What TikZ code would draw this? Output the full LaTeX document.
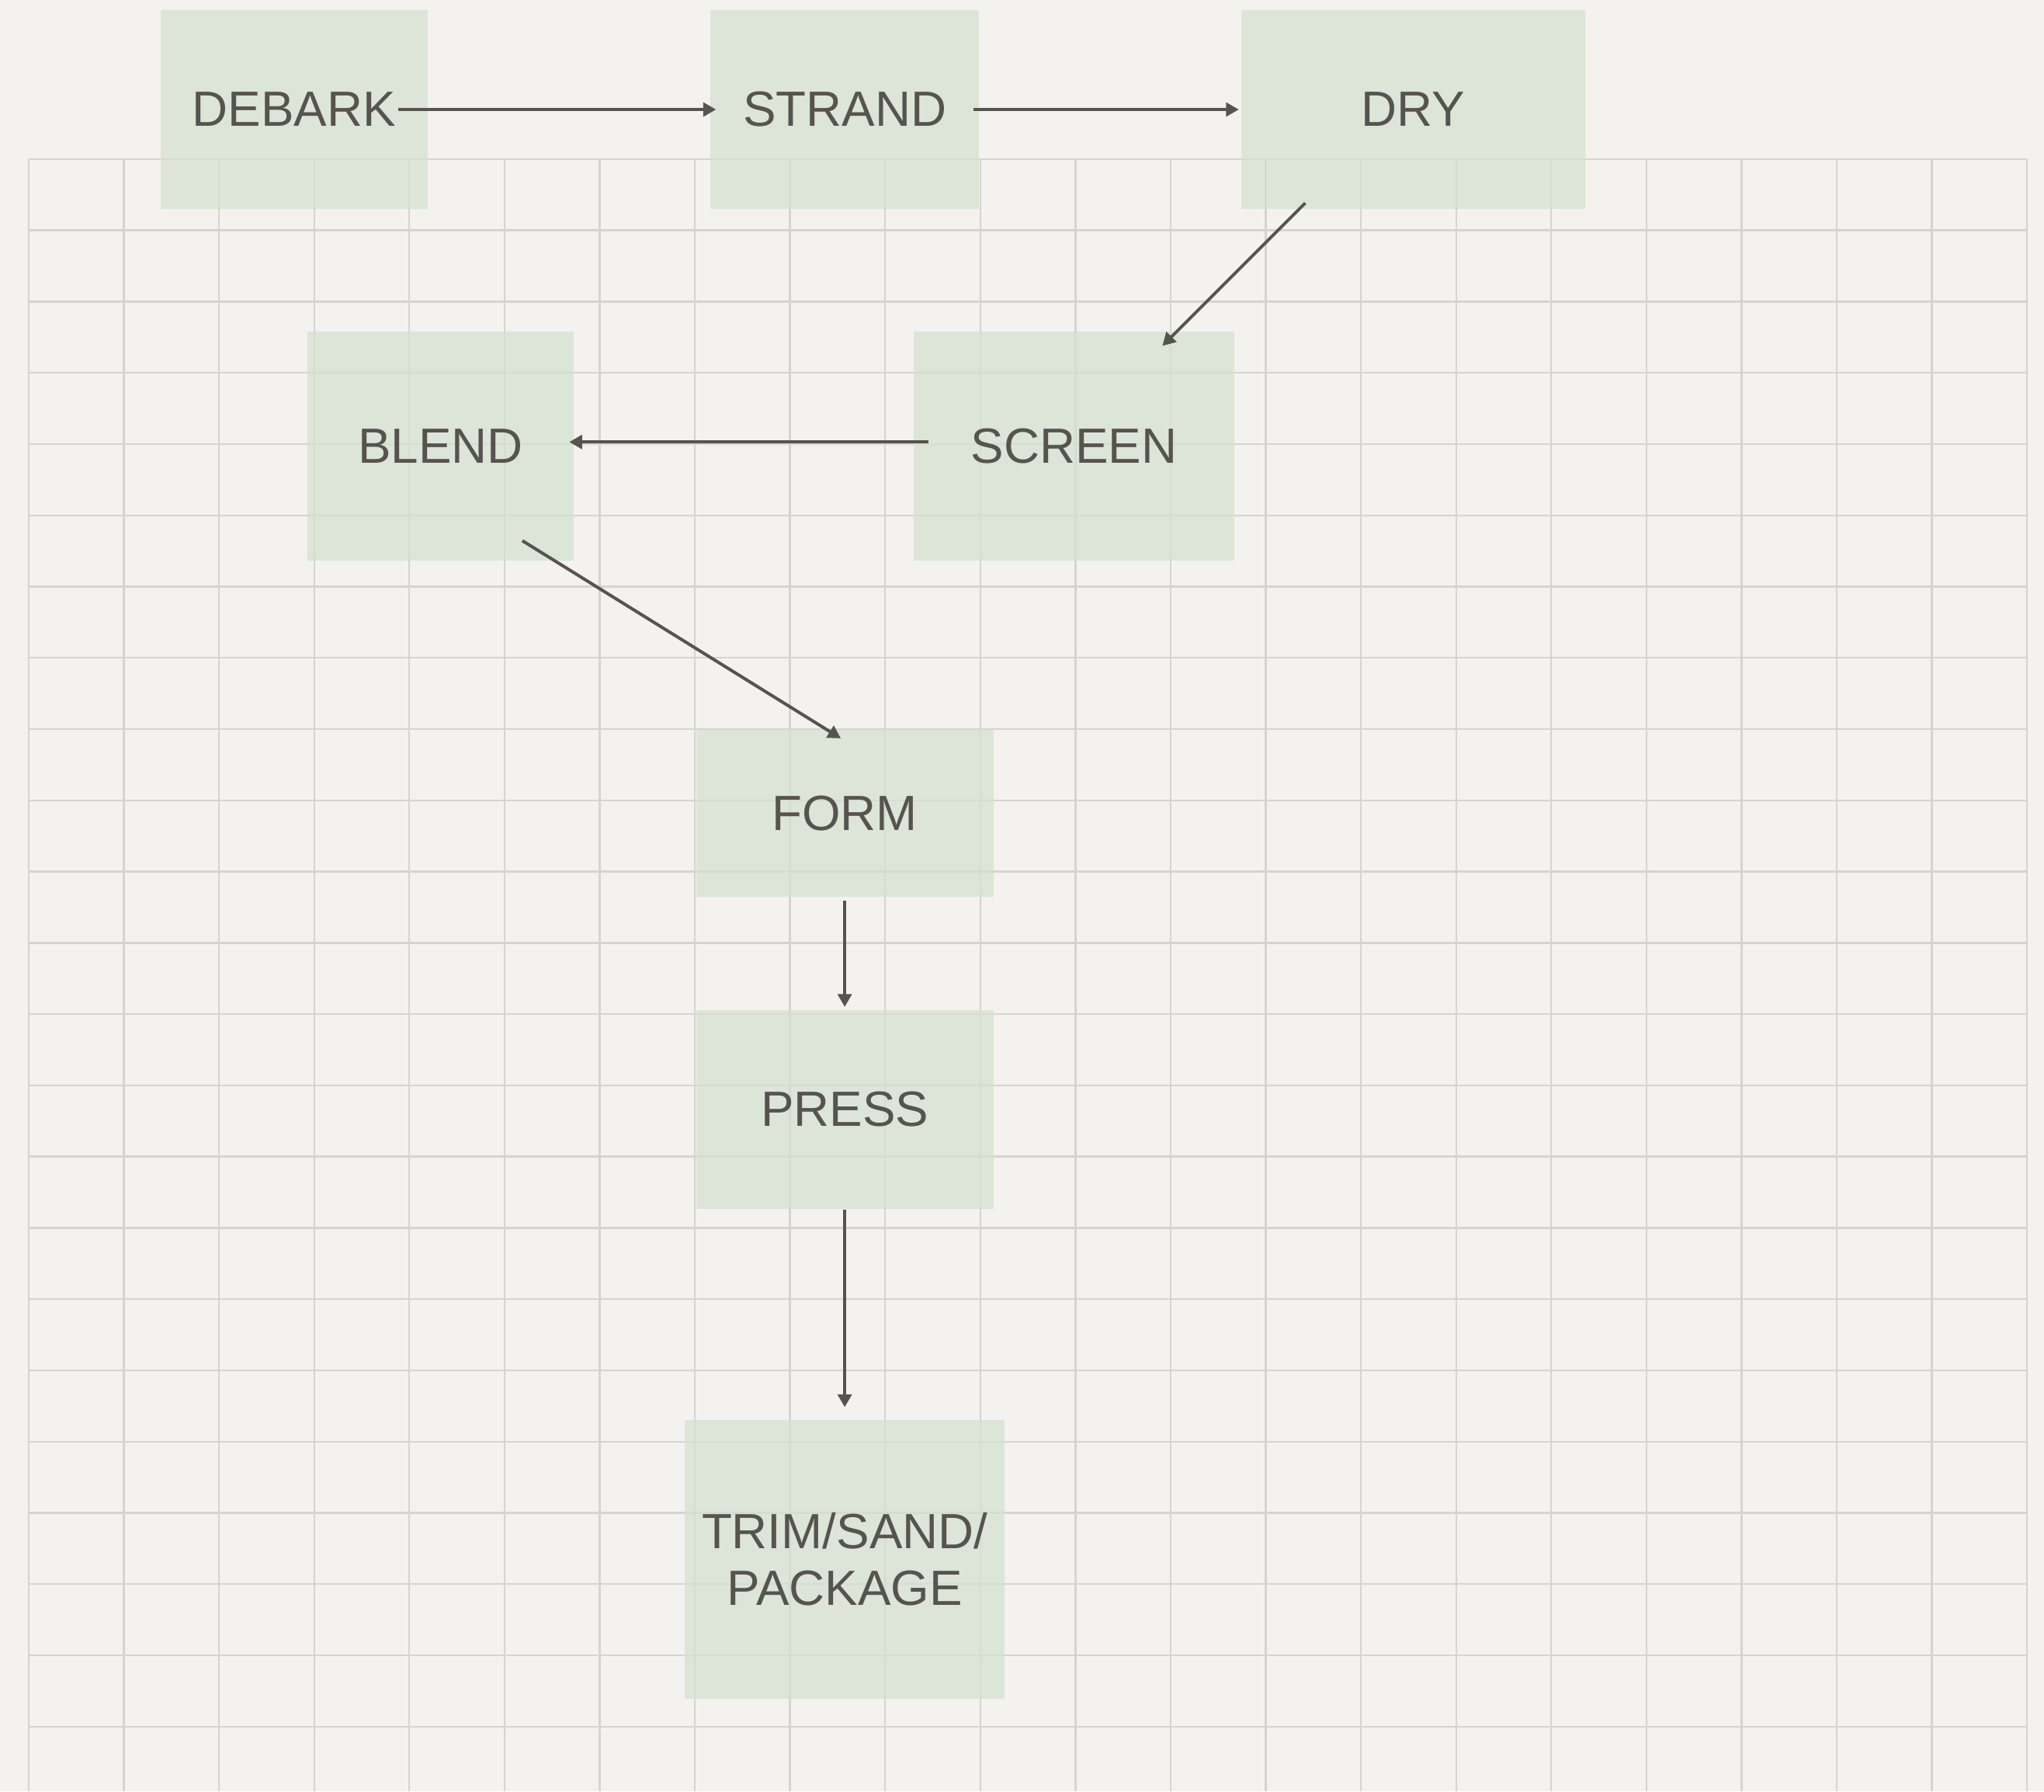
\documentclass[tikz,border=0pt]{standalone}
\usepackage{fontspec}
\setmainfont{Liberation Sans}
\usetikzlibrary{arrows.meta}
\definecolor{paper}{RGB}{243,242,239}
\definecolor{gridg}{RGB}{214,212,208}
\definecolor{boxg}{RGB}{212,225,208}
\definecolor{inkd}{RGB}{87,84,79}

\begin{document}
\begin{tikzpicture}[
    box/.style = {fill=boxg, fill opacity=0.72, text opacity=1, text=inkd, inner sep=0pt,
                  font=\fontsize{10.8}{12.3}\selectfont, align=center},
    flow/.style = {line width=0.68pt, inkd, -{Triangle[width=3pt,length=2.8pt]}}
]
            \fill[paper] (0,0) rectangle (15.68,-13.74);
            \useasboundingbox (0,0) rectangle (15.68,-13.74);
            \foreach \x in {0,...,21}
                {\draw[gridg, line width=0.4pt] ({0.22+\x*0.73},-1.22) -- ({0.22+\x*0.73},-13.74);}
            \foreach \y in {0,...,22}
                {\draw[gridg, line width=0.4pt] (0.22,{-1.22-\y*0.5465}) -- (15.55,{-1.22-\y*0.5465});}
            \node[box, minimum width=2.05cm, minimum height=1.52cm] (debark) at (2.255,-0.84) {DEBARK};
            \node[box, minimum width=2.06cm, minimum height=1.52cm] (strand) at (6.48,-0.84) {STRAND};
            \node[box, minimum width=2.64cm, minimum height=1.52cm] (dry) at (10.84,-0.84) {DRY};
            \node[box, minimum width=2.04cm, minimum height=1.76cm] (blend) at (3.38,-3.42) {BLEND};
            \node[box, minimum width=2.46cm, minimum height=1.76cm] (screen) at (8.24,-3.42) {SCREEN};
            \node[box, minimum width=2.28cm, minimum height=1.28cm] (form) at (6.48,-6.24) {FORM};
            \node[box, minimum width=2.28cm, minimum height=1.52cm] (press) at (6.48,-8.51) {PRESS};
            \node[box, minimum width=2.45cm, minimum height=2.14cm] (trim) at (6.48,-11.96) {TRIM/SAND/\\PACKAGE};
            \draw[flow] ([xshift=-0.23cm]debark.east) to ([xshift=0.05cm]strand.west);
            \draw[flow] ([xshift=-0.05cm]strand.east) to ([xshift=-0.01cm]dry.west);
            \draw[flow] ([shift={(0.5,0.05)}]dry.south west) to ([shift={(-0.56,-0.12)}]screen.north east);
            \draw[flow] ([shift={(0.12,0.03)}]screen.west) to ([shift={(-0.04,0.03)}]blend.east);
            \draw[flow] ([shift={(-0.4,0.16)}]blend.south east) to ([shift={(-0.03,-0.07)}]form.north);
            \draw[flow] ([yshift=-0.02cm]form.south) to ([yshift=0.02cm]press.north);
            \draw[flow] (press.south) to ([yshift=0.09cm]trim.north);
\end{tikzpicture}
\end{document}
